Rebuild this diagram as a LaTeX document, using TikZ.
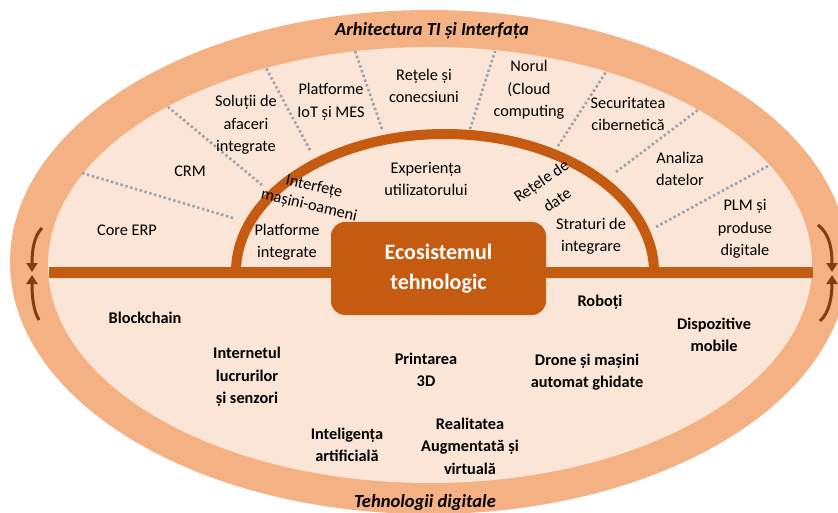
\documentclass[tikz,border=0pt]{standalone}
\usepackage{fontspec}
\setmainfont{Carlito}
\usetikzlibrary{arrows.meta}
\definecolor{ringc}{HTML}{F4B183}
\definecolor{fillc}{HTML}{FBE5D6}
\definecolor{darkc}{HTML}{C55A11}
\definecolor{arrowc}{HTML}{843C0C}
\definecolor{dotc}{HTML}{97A4AE}
\begin{document}
\begin{tikzpicture}[x=1pt,y=-1pt,
  lbl/.style={font=\fontsize{16.3}{22.5}\selectfont, align=center, inner sep=0pt},
  tech/.style={lbl, font=\fontsize{16.3}{22.5}\selectfont\bfseries},
  band/.style={font=\fontsize{18.5}{22}\selectfont\bfseries\itshape, inner sep=0pt},
  sep/.style={dotc, line width=2.6pt, dash pattern=on 2.4pt off 2.6pt},
  cyc/.style={arrowc, line width=3pt, -{Triangle[length=9pt,width=11pt]}}]
\useasboundingbox (0,0) rectangle (838,513);

% outer band and inner field
\fill[ringc] (429,262) ellipse [x radius=419pt, y radius=252pt];
\fill[fillc] (430,265) ellipse [x radius=382pt, y radius=218pt];

% separators of the upper field
\coordinate (s1a) at (233,218); \coordinate (s1b) at (82,173);
\coordinate (s2a) at (262,185); \coordinate (s2b) at (168,107);
\coordinate (s3a) at (310,150); \coordinate (s3b) at (266,68);
\coordinate (s4a) at (382,129); \coordinate (s4b) at (355,51);
\coordinate (s5a) at (470,129); \coordinate (s5b) at (495,51);
\coordinate (s6a) at (558,146); \coordinate (s6b) at (606,72);
\coordinate (s7a) at (616,172); \coordinate (s7b) at (698,110);
\coordinate (s8a) at (656,227); \coordinate (s8b) at (770,165);
\foreach \i in {1,...,8} \draw[sep] (s\i a) -- (s\i b);

% horizontal axis and inner arch
\coordinate (axl) at (49,272); \coordinate (axr) at (813,272);
\draw[darkc, line width=11pt] (axl) -- (axr);
\draw[darkc, line width=10pt] (236,272) arc[start angle=180, end angle=0, x radius=209pt, y radius=138pt];

% central block
\node[fill=darkc, rounded corners=14pt, minimum width=215pt, minimum height=93pt,
      text=white, align=center, font=\fontsize{22}{30}\selectfont\bfseries, inner sep=0pt]
  (eco) at (438.5,268.5) {Ecosistemul\\tehnologic};

% cycle arrows on both sides
\coordinate (la) at (42,228); \coordinate (lm1) at (32,272);
\coordinate (lb) at (39,320); \coordinate (lm2) at (32,275);
\draw[cyc] (la) .. controls (34,236) and (32,250) .. (lm1);
\draw[cyc] (lb) .. controls (33,310) and (32,295) .. (lm2);
\coordinate (ra) at (818,225); \coordinate (rm1) at (832,272);
\coordinate (rb) at (820,321); \coordinate (rm2) at (832,275);
\draw[cyc] (ra) .. controls (830,234) and (832,250) .. (rm1);
\draw[cyc] (rb) .. controls (830,312) and (832,295) .. (rm2);

% band titles
\node[band] (arh) at (432,31) {Arhitectura TI și Interfața};
\node[band] (teh) at (425,503) {Tehnologii digitale};

% upper field labels
\node[lbl] (erp) at (127,230) {Core ERP};
\node[lbl] (crm) at (190,171) {CRM};
\node[lbl] (sol) at (246,125) {Soluții de\\afaceri\\integrate};
\node[lbl] (iot) at (331,102) {Platforme\\IoT și MES};
\node[lbl] (ret) at (424,86) {Rețele și\\conecsiuni};
\node[lbl] (nor) at (529,90) {Norul\\(Cloud\\computing};
\node[lbl] (sec) at (628,114) {Securitatea\\cibernetică};
\node[lbl] (ana) at (680,169) {Analiza\\datelor};
\node[lbl] (plm) at (745,229) {PLM și\\produse\\digitale};

% labels inside the arch
\node[lbl] (exp) at (426,179) {Experiența\\utilizatorului};
\node[lbl, rotate=-13] (hmi1) at (314,187) {Interfețe};
\node[lbl, rotate=-13] (hmi2) at (309,206) {mașini-oameni};
\node[lbl] (pli) at (287,242) {Platforme\\integrate};
\node[lbl, rotate=34] (rdd1) at (542,182) {Rețele de};
\node[lbl, rotate=34] (rdd2) at (557,200) {date};
\node[lbl] (str) at (591,236) {Straturi de\\integrare};

% lower field: digital technologies
\node[tech] (blk) at (145,318) {Blockchain};
\node[tech] (int) at (247,377) {Internetul\\lucrurilor\\și senzori};
\node[tech] (prn) at (426,370) {Printarea\\3D};
\node[tech] (rob) at (600,302) {Roboți};
\node[tech] (dis) at (714,335) {Dispozitive\\mobile};
\node[tech] (drn) at (587,372) {Drone și mașini\\automat ghidate};
\node[tech] (ai) at (347,445) {Inteligența\\artificială};
\node[tech] (ar) at (470,446) {Realitatea\\Augmentată și\\virtuală};
\end{tikzpicture}
\end{document}
